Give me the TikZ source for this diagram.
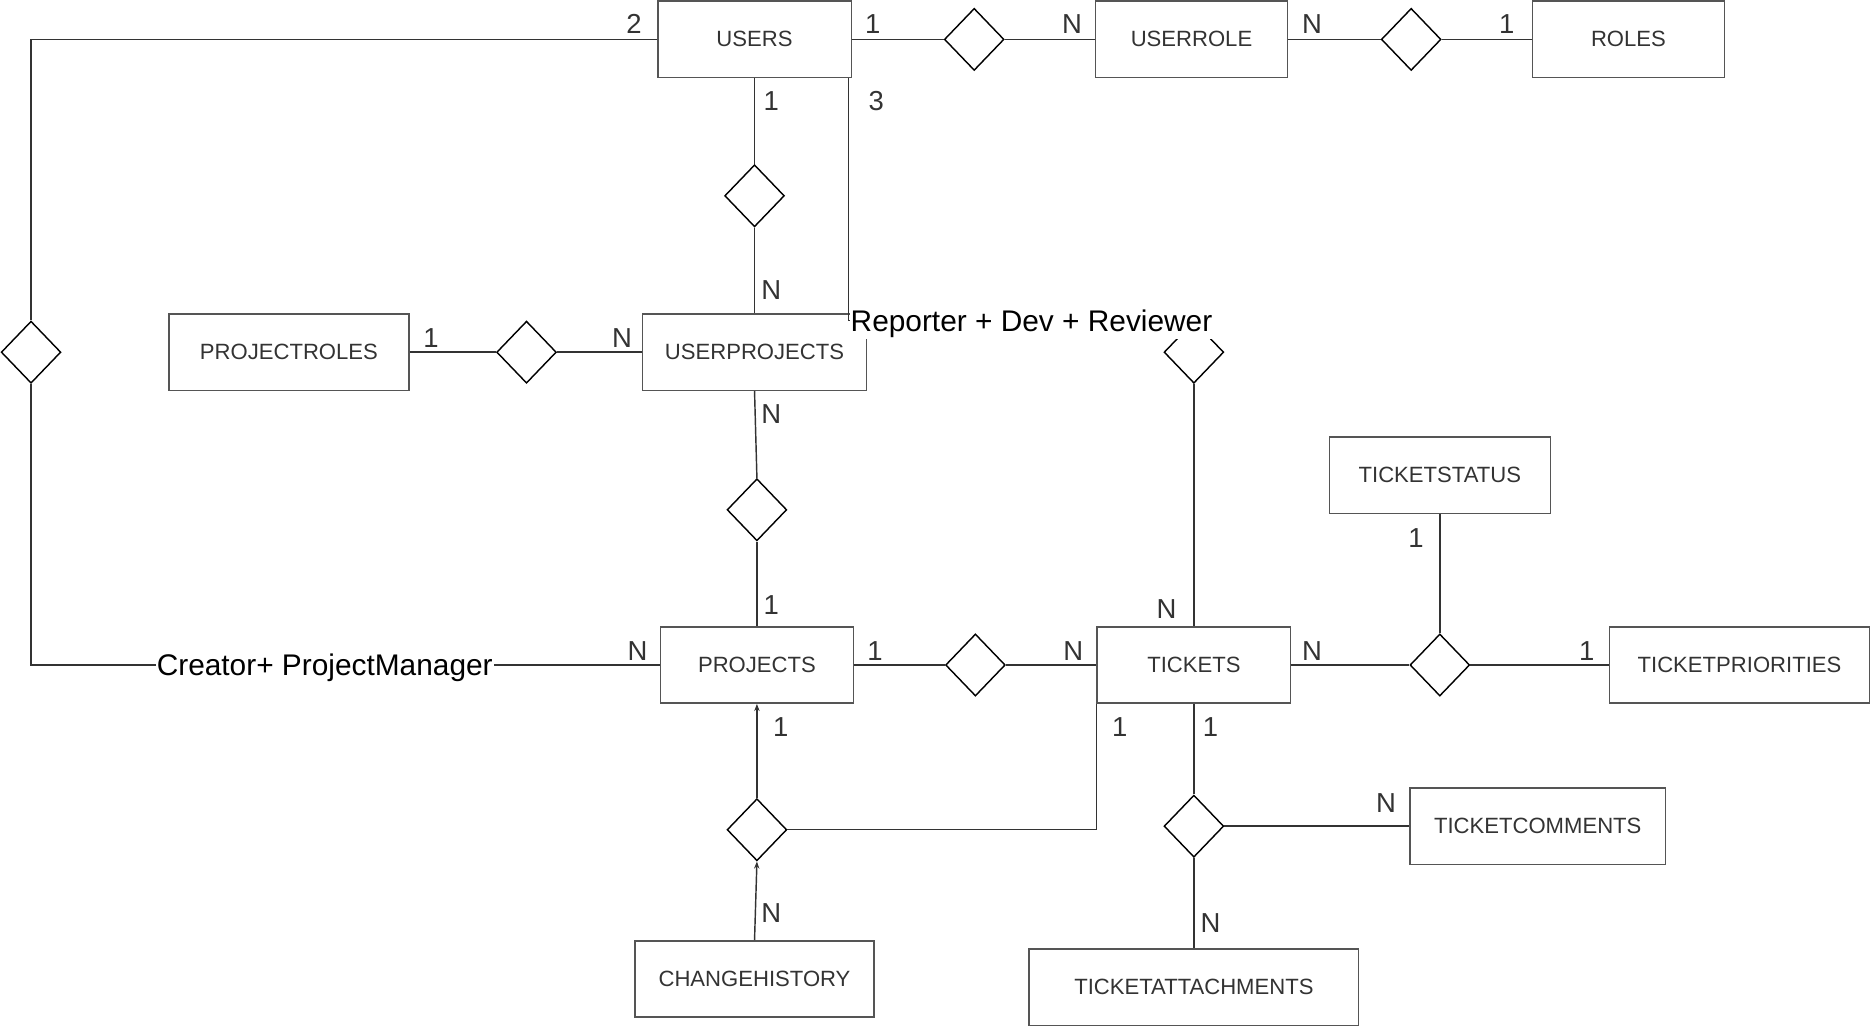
\documentclass[tikz,border=0pt]{standalone}
\usepackage{fontspec}
\setmainfont{Liberation Sans}
\usetikzlibrary{shapes.geometric,arrows.meta}
\definecolor{boxline}{HTML}{555555}
\definecolor{boxtext}{HTML}{333333}

\begin{document}
\begin{tikzpicture}[x=1pt,y=-1pt,
        entity/.style={rectangle,draw=boxline,line width=1.2pt,minimum height=64pt,inner sep=0pt,text=boxtext,font=\fontsize{18.5}{20}\selectfont},
        rel/.style={diamond,draw=black,line width=1.2pt,minimum width=50pt,minimum height=52pt,inner sep=0pt},
        card/.style={text=boxtext,font=\fontsize{23}{25}\selectfont,inner sep=0pt},
        role/.style={fill=white,text=black,font=\fontsize{25}{27}\selectfont,inner sep=1pt},
        link/.style={draw=boxtext,line width=1.2pt},
        arr/.style={-{Stealth[length=6pt,width=4.5pt]}}]
            \useasboundingbox (0,0) rectangle (1568,861);

            % entities
            \node[entity,minimum width=162pt] (users) at (632,33) {USERS};
            \node[entity,minimum width=161pt] (userrole) at (998,33) {USERROLE};
            \node[entity,minimum width=161pt] (roles) at (1364,33) {ROLES};
            \node[entity,minimum width=201pt] (projectroles) at (242,295) {PROJECTROLES};
            \node[entity,minimum width=188pt] (userprojects) at (632,295) {USERPROJECTS};
            \node[entity,minimum width=185pt] (ticketstatus) at (1206,398) {TICKETSTATUS};
            \node[entity,minimum width=162pt] (projects) at (634,557) {PROJECTS};
            \node[entity,minimum width=162pt] (tickets) at (1000,557) {TICKETS};
            \node[entity,minimum width=218pt] (ticketpriorities) at (1457,557) {TICKETPRIORITIES};
            \node[entity,minimum width=214pt] (ticketcomments) at (1288,692) {TICKETCOMMENTS};
            \node[entity,minimum width=200pt] (changehistory) at (632,820) {CHANGEHISTORY};
            \node[entity,minimum width=276pt] (ticketattachments) at (1000,827) {TICKETATTACHMENTS};

            % relations
            \node[rel] (r_userrole) at (816,33) {};
            \node[rel] (r_roles) at (1182,33) {};
            \node[rel] (r_userproj) at (632,164) {};
            \node[rel] (r_creator) at (26,295) {};
            \node[rel] (r_projroles) at (441,295) {};
            \node[rel] (r_team) at (1000,295) {};
            \node[rel] (r_projup) at (634,427) {};
            \node[rel] (r_projtick) at (817,557) {};
            \node[rel] (r_state) at (1206,557) {};
            \node[rel] (r_history) at (634,695) {};
            \node[rel] (r_detail) at (1000,692) {};

            \draw[link] (users.west) -| (r_creator.north);
            \draw[link] (r_creator.south) |- (projects.west);
            \draw[link] (users.east) -- (r_userrole.west);
            \draw[link] (r_userrole.east) -- (userrole.west);
            \draw[link] (userrole.east) -- (r_roles.west);
            \draw[link] (r_roles.east) -- (roles.west);
            \draw[link] (users.south) -- (r_userproj.north);
            \draw[link] (r_userproj.south) -- (userprojects.north);
            \draw[link] ([xshift=-3pt]users.south east) |- (r_team.north);
            \draw[link] (r_team.south) -- (tickets.north);
            \draw[link] (projectroles.east) -- (r_projroles.west);
            \draw[link] (r_projroles.east) -- (userprojects.west);
            \draw[link] (userprojects.south) -- (r_projup.north);
            \draw[link] (r_projup.south) -- (projects.north);
            \draw[link] (projects.east) -- (r_projtick.west);
            \draw[link] (r_projtick.east) -- (tickets.west);
            \draw[link] (tickets.east) -- (r_state.west);
            \draw[link] (r_state.east) -- (ticketpriorities.west);
            \draw[link] (r_state.north) -- (ticketstatus.south);
            \draw[link,arr] (changehistory.north) -- (r_history.south);
            \draw[link,arr] (r_history.north) -- (projects.south);
            \draw[link] (r_history.east) -| (tickets.south west);
            \draw[link] (tickets.south) -- (r_detail.north);
            \draw[link] (r_detail.east) -- (ticketcomments.west);
            \draw[link] (r_detail.south) -- (ticketattachments.north);

            % labels on the edges
            \node[role] (teamlabel) at (864,271) {Reporter + Dev + Reviewer};
            \node[role] (creatorlabel) at (272,559) {Creator+ ProjectManager};

            % cardinalities
            \node[card] (c_users_w) at (531,20) {2};
            \node[card] (c_users_e) at (731,20) {1};
            \node[card] (c_userrole_w) at (898,20) {N};
            \node[card] (c_userrole_e) at (1099,20) {N};
            \node[card] (c_roles) at (1262,20) {1};
            \node[card] (c_users_s) at (646,85) {1};
            \node[card] (c_users_team) at (734,85) {3};
            \node[card] (c_up_n) at (646,243) {N};
            \node[card] (c_projroles) at (361,283) {1};
            \node[card] (c_up_w) at (521,283) {N};
            \node[card] (c_up_s) at (646,347) {N};
            \node[card] (c_proj_n) at (646,507) {1};
            \node[card] (c_proj_w) at (534,545) {N};
            \node[card] (c_proj_e) at (733,545) {1};
            \node[card] (c_tick_w) at (899,545) {N};
            \node[card] (c_tick_n) at (977,510) {N};
            \node[card] (c_tick_e) at (1099,545) {N};
            \node[card] (c_prio) at (1329,545) {1};
            \node[card] (c_status) at (1186,451) {1};
            \node[card] (c_proj_s) at (654,609) {1};
            \node[card] (c_tick_sw) at (938,609) {1};
            \node[card] (c_tick_s) at (1014,609) {1};
            \node[card] (c_comments) at (1161,673) {N};
            \node[card] (c_history) at (646,765) {N};
            \node[card] (c_attach) at (1014,773) {N};
\end{tikzpicture}
\end{document}
